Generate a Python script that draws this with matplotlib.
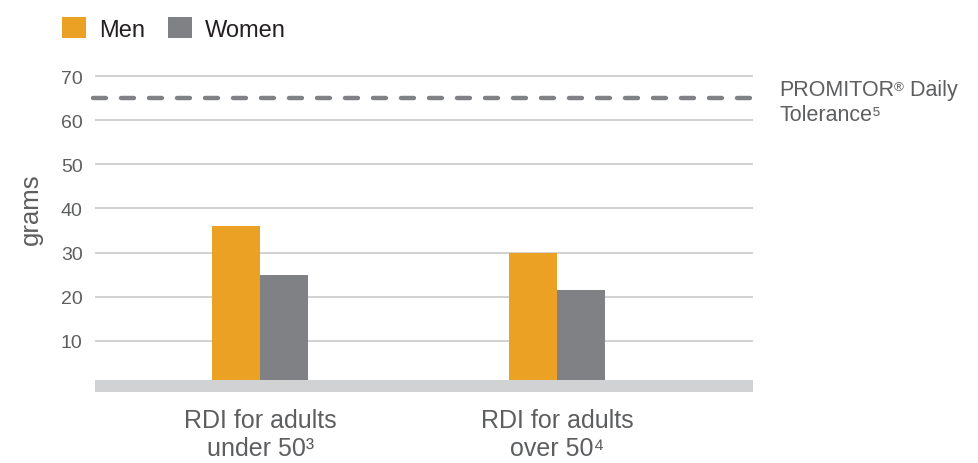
import matplotlib
matplotlib.use("Agg")
import matplotlib.pyplot as plt
import numpy as np

plt.rcParams['font.family'] = ['Liberation Sans', 'DejaVu Sans']

categories = ["RDI for adults\nunder 50³", "RDI for adults\nover 50⁴"]
men = [36, 30]
women = [25, 21.5]
tolerance = 65
yticks = [10, 20, 30, 40, 50, 60, 70]

ORANGE = "#eba123"
GRAY = "#808184"
TEXT = "#5d5e60"
GRID = "#c9c9cb"
BAND = "#d1d2d4"

fig = plt.figure(figsize=(9.79, 4.64), dpi=100)
ax = fig.add_axes([95 / 979, 1 - 392.6 / 464, (753 - 95) / 979, (392.6 - 74.8) / 464])

x = np.arange(len(categories))
w = 0.163
b1 = ax.bar(x - w / 2, men, w, color=ORANGE, label="Men", zorder=2)
b2 = ax.bar(x + w / 2, women, w, color=GRAY, label="Women", zorder=2)

ax.set_xlim(-0.556, 1.66)
ax.set_ylim(-1.5, 70.5)

for t in yticks:
    ax.axhline(t, color=GRID, lw=1.2, zorder=1)
# gray base band
ax.axhspan(-1.5, 1.2, color=BAND, zorder=3, lw=0)

# tolerance dashed line extending past the grid
ax.plot([-0.562, 1.694], [tolerance, tolerance], color=GRAY, lw=3.2,
        dashes=(2.9, 3.4), dash_capstyle="round", clip_on=False, zorder=4)

# label with a small raised registered sign
t1 = ax.text(1.75, 65.6, "PROMITOR", fontsize=15.5, color=TEXT, va="baseline", ha="left")
reg = ax.annotate("®", xy=(1, 1), xycoords=t1, xytext=(-0.5, -1), textcoords="offset points",
                  fontsize=9.5, color=TEXT, va="top", ha="left")
ax.annotate(" Daily", xy=(1, 0), xycoords=(reg, t1), fontsize=15.5, color=TEXT,
            va="bottom", ha="left")
ax.text(1.75, 60.0, "Tolerance⁵", fontsize=15.5, color=TEXT, va="baseline", ha="left")

ax.set_yticks(yticks)
ax.set_yticklabels([str(t) for t in yticks])
ax.tick_params(axis="y", length=0, pad=9, labelsize=14, labelcolor=TEXT)
ax.set_xticks(x)
ax.set_xticklabels(categories)
ax.tick_params(axis="x", length=0, pad=12, labelsize=18, labelcolor=TEXT)
for lbl in ax.get_xticklabels():
    lbl.set_linespacing(1.2)
for s in ax.spines.values():
    s.set_visible(False)

ax.set_ylabel("grams", fontsize=18.5, color=TEXT)
ax.yaxis.set_label_coords(-0.079, 0.578)

fig.legend(handles=[b1, b2], loc="upper left", bbox_to_anchor=(41 / 979, 1 + 3 / 464),
           ncol=2, frameon=False, fontsize=17, handlelength=1.0, handleheight=1.0,
           handletextpad=0.55, columnspacing=1.0, labelcolor="#231f20")

fig.savefig("out.png", dpi=100)
